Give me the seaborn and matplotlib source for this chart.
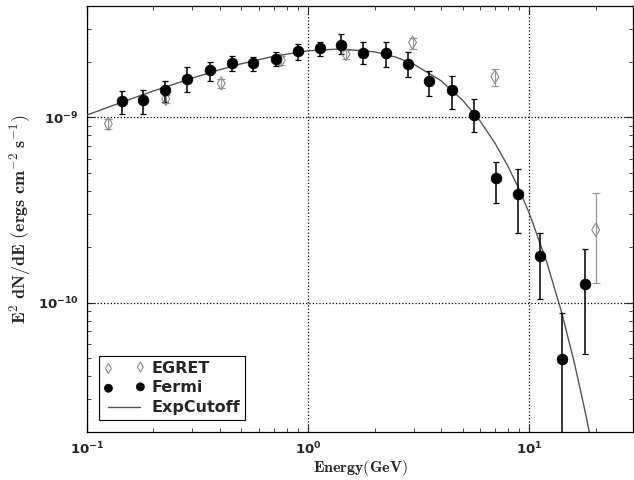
import matplotlib
matplotlib.use("Agg")
import matplotlib.pyplot as plt
from matplotlib.ticker import FuncFormatter, LogLocator, NullFormatter, FixedLocator
import numpy as np
import pandas as pd
import seaborn as sns

# ---------------- data ----------------
fermi_E = [0.1435, 0.1795, 0.2265, 0.284, 0.359, 0.452, 0.564, 0.713, 0.899, 1.128, 1.413,
           1.78, 2.25, 2.82, 3.54, 4.46, 5.61, 7.08, 8.92, 11.25, 14.13, 17.8]
fermi_F = [1.23e-9, 1.245e-9, 1.41e-9, 1.615e-9, 1.80e-9, 1.96e-9, 1.98e-9, 2.08e-9, 2.29e-9, 2.36e-9, 2.47e-9,
           2.24e-9, 2.23e-9, 1.945e-9, 1.58e-9, 1.40e-9, 1.035e-9, 4.72e-10, 3.84e-10, 1.79e-10, 4.98e-11, 1.265e-10]
fermi_hi = [1.397e-9, 1.409e-9, 1.581e-9, 1.880e-9, 1.983e-9, 2.154e-9, 2.109e-9, 2.245e-9, 2.489e-9, 2.571e-9, 2.818e-9,
            2.541e-9, 2.541e-9, 2.245e-9, 1.791e-9, 1.682e-9, 1.260e-9, 5.75e-10, 5.30e-10, 2.37e-10, 8.8e-11, 1.95e-10]
fermi_lo = [1.047e-9, 1.047e-9, 1.208e-9, 1.368e-9, 1.581e-9, 1.791e-9, 1.791e-9, 1.904e-9, 2.043e-9, 2.154e-9, 2.198e-9,
            1.945e-9, 1.863e-9, 1.648e-9, 1.313e-9, 1.114e-9, 8.31e-10, 3.44e-10, 2.37e-10, 1.05e-10, 1.0e-12, 5.25e-11]

egret_E = [0.125, 0.2276, 0.405, 0.757, 1.486, 2.97, 7.0, 20.0]
egret_F = [9.25e-10, 1.26e-9, 1.53e-9, 2.04e-9, 2.20e-9, 2.54e-9, 1.66e-9, 2.47e-10]
egret_hi = [9.8e-10, 1.33e-9, 1.62e-9, 2.15e-9, 2.32e-9, 2.70e-9, 1.83e-9, 3.9e-10]
egret_lo = [8.7e-10, 1.19e-9, 1.44e-9, 1.93e-9, 2.08e-9, 2.34e-9, 1.486e-9, 1.28e-10]

cut_E = [0.1, 0.15, 0.2, 0.3, 0.4, 0.5, 0.7, 1.0, 1.4, 2.0, 2.5, 3.0, 4.0, 5.0, 6.0,
         7.0, 8.0, 9.0, 10.0, 12.0, 14.0, 16.0, 18.0, 19.0]
cut_F = [1.030e-9, 1.231e-9, 1.390e-9, 1.633e-9, 1.813e-9, 1.950e-9, 2.140e-9, 2.291e-9, 2.345e-9,
         2.262e-9, 2.117e-9, 1.943e-9, 1.577e-9, 1.240e-9, 9.57e-10, 7.28e-10, 5.48e-10, 4.10e-10,
         3.05e-10, 1.66e-10, 8.93e-11, 4.75e-11, 2.51e-11, 1.82e-11]

x_ticks = [0.1, 1.0, 10.0]
y_ticks = [1e-10, 1e-9]

fermi = pd.DataFrame({"E": fermi_E, "F": fermi_F})
egret = pd.DataFrame({"E": egret_E, "F": egret_F})
cut = pd.DataFrame({"E": cut_E, "F": cut_F})

# ---------------- style ----------------
sns.set_style("ticks")
plt.rcParams.update({
    "font.family": ["DejaVu Sans"],
    "mathtext.fontset": "dejavusans",
    "xtick.direction": "in",
    "ytick.direction": "in",
    "xtick.top": True,
    "ytick.right": True,
})

fig = plt.figure(figsize=(6.34, 4.8), dpi=100)
ax = fig.add_axes([0.137, 0.1, 0.8615, 0.8875])
ax.set_xscale("log")
ax.set_yscale("log")

# model curve
sns.lineplot(data=cut, x="E", y="F", color="#555555", linewidth=1.0, ax=ax,
             label="ExpCutoff", sort=False, zorder=3)

# error bars
ax.errorbar(egret_E, egret_F,
            yerr=[np.array(egret_F) - np.array(egret_lo), np.array(egret_hi) - np.array(egret_F)],
            fmt="none", ecolor="#9a9a9a", elinewidth=0.9, capsize=3, capthick=0.9, zorder=2)
ax.errorbar(fermi_E, fermi_F,
            yerr=[np.array(fermi_F) - np.array(fermi_lo), np.array(fermi_hi) - np.array(fermi_F)],
            fmt="none", ecolor="black", elinewidth=1.1, capsize=2.5, capthick=0.9, zorder=4)

# markers
sns.scatterplot(data=egret, x="E", y="F", marker="d", s=45, facecolor="none",
                edgecolor="#8a8a8a", linewidth=0.8, label="EGRET", ax=ax, zorder=5)
sns.scatterplot(data=fermi, x="E", y="F", marker="o", s=60, color="black",
                edgecolor="black", linewidth=0.5, label="Fermi", ax=ax, zorder=6)

ax.set_xlim(0.1, 29.5)
ax.set_ylim(2.0e-11, 4.0e-9)

fmt = FuncFormatter(lambda v, p: r"$\mathbf{10^{%d}}$" % int(round(np.log10(v))))
ax.xaxis.set_major_locator(FixedLocator(x_ticks))
ax.yaxis.set_major_locator(FixedLocator(y_ticks))
ax.xaxis.set_minor_locator(LogLocator(base=10, subs=np.arange(2, 10)))
ax.yaxis.set_minor_locator(LogLocator(base=10, subs=np.arange(2, 10)))
ax.xaxis.set_major_formatter(fmt)
ax.yaxis.set_major_formatter(fmt)
ax.xaxis.set_minor_formatter(NullFormatter())
ax.yaxis.set_minor_formatter(NullFormatter())

ax.grid(True, which="major", linestyle=":", color="black", linewidth=0.9)
ax.tick_params(which="major", length=6, width=0.8, labelsize=9.5, pad=6)
ax.tick_params(which="minor", length=3, width=0.6)
for s in ax.spines.values():
    s.set_linewidth(0.9)
    s.set_color("black")

ax.set_xlabel(r"$\mathbf{Energy(GeV)}$", math_fontfamily="cm", fontsize=11.5, labelpad=1)
ax.set_ylabel(r"$\mathbf{E^2\ dN/dE\ (ergs\ cm^{-2}\ s^{-1})}$", math_fontfamily="cm",
              fontsize=13)
ax.yaxis.set_label_coords(-0.099, 0.5)

h, l = ax.get_legend_handles_labels()
order = [l.index("EGRET"), l.index("Fermi"), l.index("ExpCutoff")]
leg = ax.legend([h[i] for i in order], [l[i] for i in order], loc="lower left",
                scatterpoints=2, numpoints=2, fancybox=False, framealpha=1,
                edgecolor="black", borderaxespad=0.75, handlelength=2.6,
                prop={"weight": "bold", "size": 11.5}, labelspacing=0.3,
                handletextpad=0.4, borderpad=0.3, markerscale=0.75)
leg.get_frame().set_linewidth(0.8)

fig.savefig("out.png", dpi=100)
